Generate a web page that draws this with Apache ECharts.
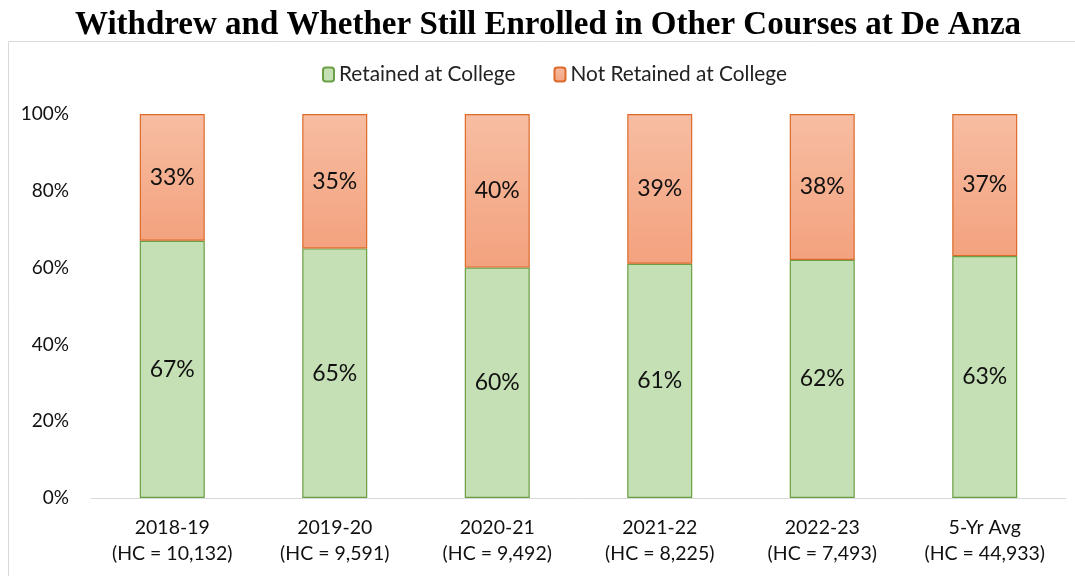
<!DOCTYPE html>
<html><head><meta charset="utf-8">
<script src="https://cdn.jsdelivr.net/npm/echarts@6/dist/echarts.min.js"></script>
<style>html,body{margin:0;padding:0;background:#fff}#c{width:1075px;height:576px}</style>
</head><body><div id="c"></div>
<script>
const categories = ['2018-19\n(HC = 10,132)','2019-20\n(HC = 9,591)','2020-21\n(HC = 9,492)','2021-22\n(HC = 8,225)','2022-23\n(HC = 7,493)','5-Yr Avg\n(HC = 44,933)'];
const retained = [67, 65, 60, 61, 62, 63];
const notRetained = [33, 35, 40, 39, 38, 37];
const yTicks = [0, 20, 40, 60, 80, 100];

const font = 'Lato, "Open Sans", sans-serif';
const chart = echarts.init(document.getElementById('c'));
chart.setOption({
  animation: false,
  title: { text: 'Withdrew and Whether Still Enrolled in Other Courses at De Anza', left: 70, top: 4,
    textStyle: { fontFamily: '"Liberation Serif", "Times New Roman", serif', fontWeight: 'bold', fontSize: 33, color: '#000' } },
  graphic: [{ type: 'rect', shape: { x: 8.5, y: 41.5, width: 1100, height: 560 }, style: { fill: 'none', stroke: '#d9d9d9', lineWidth: 1 }, silent: true, z: -1 }],
  legend: { top: 59, left: 317, itemWidth: 11, itemHeight: 14, itemGap: 38,
    textStyle: { fontFamily: font, fontSize: 20.8, color: '#222' } },
  grid: { left: 91, right: 9, top: 114, bottom: 78 },
  xAxis: { type: 'category', data: categories,
    axisLine: { lineStyle: { color: '#d9d9d9' } }, axisTick: { show: false },
    axisLabel: { fontFamily: font, fontSize: 19.5, color: '#111', lineHeight: 26, margin: 17 } },
  yAxis: { type: 'value', min: 0, max: 100, interval: 20,
    axisLabel: { formatter: v => yTicks.includes(v) ? v + '%' : '', fontFamily: font, fontSize: 19, color: '#111', margin: 22 },
    splitLine: { show: false }, axisLine: { show: false }, axisTick: { show: false } },
  series: [
    { name: 'Retained at College', type: 'bar', stack: 's', data: retained, barWidth: '40%',
      itemStyle: { color: '#C5E0B4', borderColor: '#6A9F45', borderWidth: 1.2 },
      label: { show: true, position: 'inside', formatter: p => p.value + '%', fontFamily: font, fontSize: 23, color: '#111' } },
    { name: 'Not Retained at College', type: 'bar', stack: 's', data: notRetained, barWidth: '40%',
      itemStyle: { color: new echarts.graphic.LinearGradient(0, 0, 0, 1, [{ offset: 0, color: '#F7BDA2' }, { offset: 1, color: '#F3A27E' }]),
        borderColor: '#DC6A2A', borderWidth: 1.2 },
      label: { show: true, position: 'inside', formatter: p => p.value + '%', fontFamily: font, fontSize: 23, color: '#111' } }
  ]
});
</script></body></html>
